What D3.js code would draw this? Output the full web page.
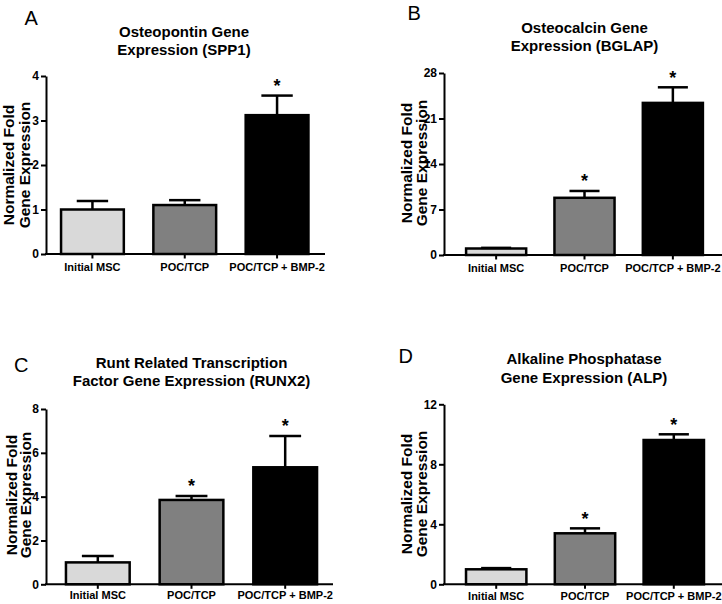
<!DOCTYPE html>
<html>
<head>
<meta charset="utf-8">
<script src="https://cdn.jsdelivr.net/npm/d3@7/dist/d3.min.js"></script>
<style>
  html, body { margin: 0; padding: 0; background: #fff; }
  svg { display: block; }
  text { font-family: "Liberation Sans", Arial, Helvetica, sans-serif; }
</style>
</head>
<body>
<svg id="chart" width="722" height="604"></svg>
<script>
// ---- Data ----
const categories = ["Initial MSC", "POC/TCP", "POC/TCP + BMP-2"];
const barColors = ["#d9d9d9", "#808080", "#000000"];

const sppMean = [1.00, 1.10, 3.12];
const sppErr  = [0.19, 0.11, 0.44];
const sppSig  = [false, false, true];
const sppTicks = [0, 1, 2, 3, 4];

const bglapMean = [1.0, 8.8, 23.4];
const bglapErr  = [0.1, 1.05, 2.4];
const bglapSig  = [false, true, true];
const bglapTicks = [0, 7, 14, 21, 28];

const runxMean = [1.00, 3.85, 5.34];
const runxErr  = [0.29, 0.18, 1.43];
const runxSig  = [false, true, true];
const runxTicks = [0, 2, 4, 6, 8];

const alpMean = [1.0, 3.40, 9.62];
const alpErr  = [0.08, 0.33, 0.38];
const alpSig  = [false, true, true];
const alpTicks = [0, 4, 8, 12];

const yLabelLines = ["Normalized Fold", "Gene Expression"];

const panels = [
  { letter: "A", title: ["Osteopontin Gene", "Expression (SPP1)"],
    mean: sppMean, err: sppErr, sig: sppSig, ticks: sppTicks,
    layout: { x0: 46, band: [46, 323.5], po: 0.163, axisRight: 325, y0: 254, yTop: 76,
      letterX: 24.5, letterY: 24.5, titleX: 184, titleY: [37, 54.5],
      ylX: [14, 29.5], ylY: 165, xlabOff: 16.5 } },
  { letter: "B", title: ["Osteocalcin Gene", "Expression (BGLAP)"],
    mean: bglapMean, err: bglapErr, sig: bglapSig, ticks: bglapTicks,
    layout: { x0: 444, band: [444, 725], po: 0.25, axisRight: 722, y0: 255, yTop: 73,
      letterX: 407.5, letterY: 19.5, titleX: 584.5, titleY: [33, 51],
      ylX: [411.5, 427], ylY: 163, xlabOff: 16.5 } },
  { letter: "C", title: ["Runt Related Transcription", "Factor Gene Expression (RUNX2)"],
    mean: runxMean, err: runxErr, sig: runxSig, ticks: runxTicks,
    layout: { x0: 46, band: [46, 337], po: 0.213, axisRight: 333, y0: 584.3, yTop: 409,
      letterX: 14, letterY: 371.5, titleX: 191.5, titleY: [368, 386],
      ylX: [16.5, 31], ylY: 495, xlabOff: 14.5 } },
  { letter: "D", title: ["Alkaline Phosphatase", "Gene Expression (ALP)"],
    mean: alpMean, err: alpErr, sig: alpSig, ticks: alpTicks,
    layout: { x0: 444, band: [444, 726], po: 0.248, axisRight: 722, y0: 584.3, yTop: 404.3,
      letterX: 398.5, letterY: 362.5, titleX: 584, titleY: [364, 382.5],
      ylX: [411.5, 427], ylY: 494, xlabOff: 15.5 } }
];

const svg = d3.select("#chart");

panels.forEach(p => {
  const L = p.layout;
  const g = svg.append("g");
  const yMax = p.ticks[p.ticks.length - 1];
  const y = d3.scaleLinear().domain([0, yMax]).range([L.y0, L.yTop]);
  const x = d3.scaleBand().domain(categories).range(L.band)
    .paddingInner(0.32).paddingOuter(L.po);

  // panel letter
  g.append("text").attr("x", L.letterX).attr("y", L.letterY)
    .style("font-family", "'Liberation Sans', Arial, sans-serif")
    .style("font-size", "20px").text(p.letter);

  // title
  p.title.forEach((t, i) => {
    g.append("text").attr("x", L.titleX).attr("y", L.titleY[i])
      .attr("text-anchor", "middle")
      .style("font-size", "15px").style("font-weight", "bold").text(t);
  });

  // y label
  yLabelLines.forEach((t, i) => {
    g.append("text")
      .attr("transform", `translate(${L.ylX[i]},${L.ylY}) rotate(-90)`)
      .attr("text-anchor", "middle")
      .style("font-size", "15.5px").style("font-weight", "bold").text(t);
  });

  // bars
  g.selectAll("rect.bar").data(categories).enter().append("rect")
    .attr("class", "bar")
    .attr("x", d => x(d))
    .attr("width", x.bandwidth())
    .attr("y", (d, i) => y(p.mean[i]))
    .attr("height", (d, i) => y(0) - y(p.mean[i]))
    .attr("fill", (d, i) => barColors[i])
    .attr("stroke", "#000").attr("stroke-width", 2.5);

  // error bars (upper only)
  categories.forEach((c, i) => {
    const cx = x(c) + x.bandwidth() / 2;
    const top = y(p.mean[i] + p.err[i]);
    const capW = x.bandwidth() * 0.5;
    g.append("line").attr("x1", cx).attr("x2", cx)
      .attr("y1", y(p.mean[i])).attr("y2", top)
      .attr("stroke", "#000").attr("stroke-width", 2.5);
    g.append("line").attr("x1", cx - capW / 2).attr("x2", cx + capW / 2)
      .attr("y1", top).attr("y2", top)
      .attr("stroke", "#000").attr("stroke-width", 2.5);
    if (p.sig[i]) {
      g.append("text").attr("x", cx).attr("y", top - 3.5)
        .attr("text-anchor", "middle")
        .style("font-size", "18px").style("font-weight", "bold").text("*");
    }
  });

  // y axis
  const yAxis = d3.axisLeft(y).tickValues(p.ticks).tickFormat(d3.format("d"))
    .tickSize(5).tickSizeOuter(0).tickPadding(2);
  const ya = g.append("g").attr("transform", `translate(${L.x0},0)`).call(yAxis);
  ya.selectAll("path, line").attr("stroke", "#000").attr("stroke-width", 2);
  ya.selectAll("text").style("font-size", "12px").style("font-weight", "bold")
    .style("font-family", "'Liberation Sans', Arial, sans-serif").attr("fill", "#000");

  // x axis
  g.append("line").attr("x1", L.x0 - 1).attr("x2", L.axisRight)
    .attr("y1", L.y0).attr("y2", L.y0)
    .attr("stroke", "#000").attr("stroke-width", 2);
  categories.forEach(c => {
    const cx = x(c) + x.bandwidth() / 2;
    g.append("line").attr("x1", cx).attr("x2", cx)
      .attr("y1", L.y0).attr("y2", L.y0 + 4.5)
      .attr("stroke", "#000").attr("stroke-width", 2);
    g.append("text").attr("x", cx).attr("y", L.y0 + L.xlabOff)
      .attr("text-anchor", "middle")
      .style("font-size", "11px").style("font-weight", "bold").text(c);
  });
});
</script>
</body>
</html>
